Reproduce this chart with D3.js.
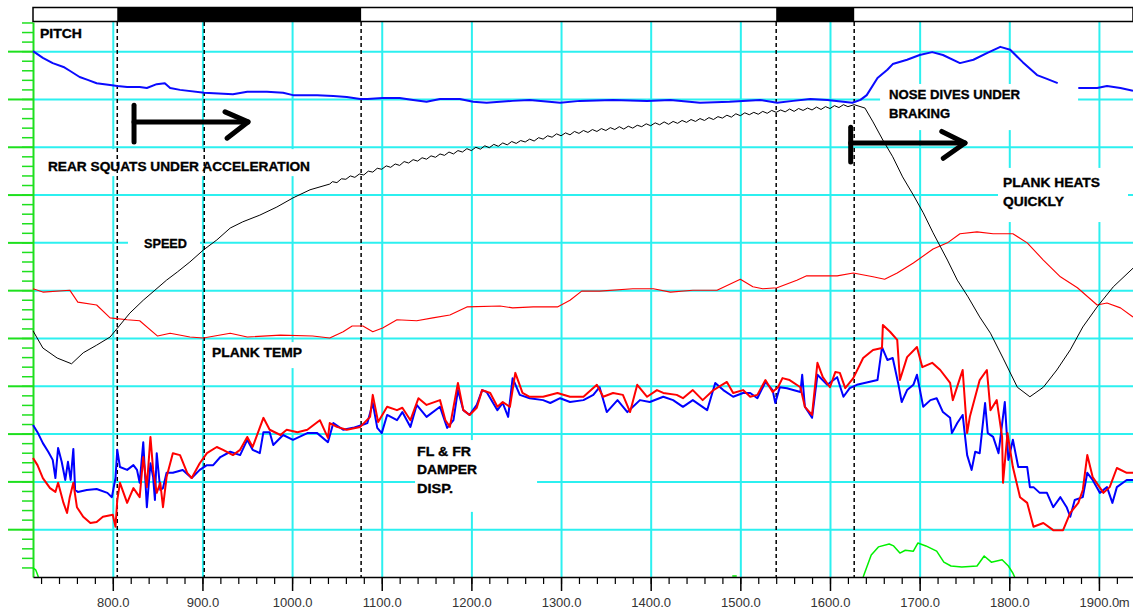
<!DOCTYPE html>
<html>
<head>
<meta charset="utf-8">
<style>
body { margin: 0; background: #fff; }
svg { display: block; font-family: "Liberation Sans", Arial, sans-serif; }
</style>
</head>
<body>
<script src="https://d3js.org/d3.v7.min.js"></script>
<script>

// distance (m) vs channel value (10 units = one grid division)
const pitch = [[711,110.0],[722,108.6],[733,107.5],[745,106.7],[752,105.9],[763,104.6],[772,104.0],[782,103.3],[797,102.9],[805,102.7],[816,102.5],[830,102.5],[838,102.3],[849,103.1],[858,103.3],[864,102.3],[875,101.9],[902,101.3],[934,101.0],[950,101.5],[972,101.5],[990,101.3],[1001,100.8],[1028,100.8],[1046,100.6],[1061,100.4],[1076,100.0],[1084,100.0],[1101,100.2],[1120,100.2],[1135,99.8],[1150,99.4],[1165,100.0],[1187,100.0],[1202,99.4],[1217,99.2],[1246,99.6],[1265,99.8],[1299,99.2],[1321,99.6],[1358,99.8],[1396,99.6],[1422,99.8],[1455,99.2],[1488,99.4],[1522,99.8],[1541,99.2],[1559,99.6],[1578,100.0],[1597,99.8],[1625,99.2],[1634,99.8],[1641,100.8],[1653,104.4],[1664,106.1],[1670,107.3],[1686,108.2],[1700,109.2],[1714,109.8],[1726,109.2],[1745,107.5],[1760,108.2],[1775,109.6],[1790,110.9],[1801,110.3],[1815,107.7],[1831,105.0],[1842,104.2],[1854,103.3],[1865,null],[1877,102.3],[1898,102.3],[1909,102.7],[1924,102.3],[1938,101.7]];

const speed = [[711,51.5],[722,47.9],[738,45.8],[754,44.6],[767,46.9],[782,48.5],[797,50.2],[808,52.7],[819,55.2],[834,57.9],[847,60.0],[860,62.1],[872,63.8],[886,65.9],[901,68.4],[916,70.5],[931,73.0],[945,74.3],[964,75.7],[983,77.4],[1001,79.3],[1020,81.0],[1042,82.2],
  [1045,82.7],[1050,82.5],[1055,83.3],[1060,83.2],[1065,83.9],[1070,83.6],[1075,84.3],[1080,84.1],[1085,84.9],[1090,84.7],[1095,85.5],[1100,85.3],[1105,86.0],[1110,85.7],[1115,86.4],[1120,86.1],[1125,86.9],[1130,86.6],[1135,87.3],[1140,87.0],[1145,87.7],[1150,87.4],[1155,88.1],[1160,87.8],[1165,88.5],[1170,88.2],[1175,88.9],[1180,88.5],[1185,89.2],[1190,88.9],[1195,89.6],[1200,89.2],[1205,89.9],[1210,89.5],[1215,90.2],[1220,89.8],[1225,90.5],[1230,90.1],[1235,90.8],[1240,90.4],[1245,91.1],[1250,90.7],[1255,91.3],[1260,91.0],[1265,91.6],[1270,91.2],[1275,91.9],[1280,91.6],[1285,92.3],[1290,92.0],[1295,92.7],[1300,92.3],[1305,92.9],[1310,92.5],[1315,93.2],[1320,92.8],[1325,93.4],[1330,93.0],[1335,93.6],[1340,93.2],[1345,93.8],[1350,93.4],[1355,94.0],[1360,93.6],[1365,94.2],[1370,93.7],[1375,94.3],[1380,93.9],[1385,94.5],[1390,94.2],[1395,94.8],[1400,94.4],[1405,95.0],[1410,94.6],[1415,95.2],[1420,94.7],[1425,95.3],[1430,94.9],[1435,95.5],[1440,95.1],[1445,95.7],[1450,95.3],[1455,95.9],[1460,95.5],[1465,96.1],[1470,95.7],[1475,96.3],[1480,96.0],[1485,96.6],[1490,96.2],[1495,96.9],[1500,96.5],[1505,97.1],[1510,96.7],[1515,97.2],[1520,96.8],[1525,97.4],[1530,97.0],[1535,97.6],[1540,97.2],[1545,97.7],[1550,97.3],[1555,97.9],[1560,97.4],[1565,98.0],[1570,97.6],[1575,98.1],[1580,97.7],[1585,98.3],[1590,97.8],[1595,98.4],[1600,98.0],[1605,98.6],[1610,98.2],[1615,98.8],[1620,98.4],[1627,98.8],
  [1639,98.1],[1648,95.2],[1659,91.4],[1670,87.9],[1681,83.7],[1693,79.9],[1704,76.2],[1715,72.0],[1731,66.3],[1742,62.1],[1754,58.6],[1767,54.4],[1779,51.0],[1793,45.8],[1809,39.7],[1823,37.7],[1838,39.7],[1853,43.3],[1868,47.5],[1882,52.3],[1898,56.5],[1916,60.7],[1938,64.6]];

const plankTemp = [[711,60.3],[722,59.6],[752,60.0],[761,57.5],[782,56.9],[797,54.2],[816,53.8],[830,53.6],[850,50.4],[864,51.0],[886,50.2],[901,50.0],[931,51.0],[950,50.2],[987,50.6],[1023,50.4],[1042,50.0],[1057,51.3],[1067,52.5],[1079,52.5],[1090,51.3],[1101,52.1],[1117,53.8],[1139,53.6],[1157,54.2],[1176,54.8],[1195,56.5],[1232,56.7],[1246,56.3],[1269,56.5],[1296,56.5],[1310,57.9],[1323,59.8],[1343,59.8],[1380,60.3],[1403,60.3],[1422,59.6],[1447,60.0],[1474,60.0],[1500,62.3],[1514,60.7],[1525,60.3],[1541,60.5],[1563,62.1],[1574,63.0],[1608,63.0],[1626,63.6],[1648,62.8],[1661,62.3],[1675,63.6],[1693,65.7],[1715,68.6],[1731,69.9],[1745,71.8],[1764,72.2],[1782,71.8],[1804,71.8],[1820,69.9],[1838,66.3],[1857,62.8],[1876,60.5],[1898,56.9],[1909,57.3],[1924,56.3],[1938,54.4]];

const damperFL = [[711,31.8],[716,30.3],[722,28.0],[728,26.2],[733,24.5],[736,20.7],[739,27.0],[743,24.1],[747,20.3],[750,24.1],[753,20.3],[756,26.8],[758,18.2],[761,17.8],[771,18.2],[782,18.4],[794,17.6],[799,16.7],[803,20.7],[805,26.6],[808,23.0],[816,22.4],[823,23.4],[827,22.4],[830,19.7],[834,28.2],[838,14.6],[842,23.8],[845,20.9],[847,16.1],[849,25.9],[853,18.2],[856,18.6],[860,21.8],[867,21.8],[878,22.4],[888,20.7],[897,22.4],[905,23.4],[912,23.4],[920,25.1],[931,26.2],[942,25.5],[950,28.7],[956,26.6],[964,25.9],[968,30.3],[975,30.3],[979,27.6],[990,29.7],[1001,28.7],[1017,30.1],[1028,30.1],[1040,28.2],[1046,32.2],[1057,30.8],[1068,31.2],[1078,31.8],[1084,32.2],[1090,36.4],[1095,31.2],[1100,30.1],[1106,33.9],[1117,32.8],[1123,34.5],[1132,31.4],[1139,36.0],[1150,33.5],[1165,35.6],[1173,31.2],[1180,32.8],[1185,39.1],[1191,34.9],[1198,33.9],[1206,36.0],[1212,39.1],[1217,38.7],[1229,34.9],[1235,36.4],[1241,33.5],[1246,41.6],[1254,38.1],[1265,37.4],[1280,37.0],[1288,36.4],[1299,37.4],[1310,36.6],[1325,37.0],[1336,38.1],[1343,39.7],[1351,34.5],[1363,37.0],[1374,34.5],[1388,37.0],[1399,36.6],[1414,37.7],[1425,37.0],[1436,35.6],[1447,37.0],[1463,34.9],[1472,40.6],[1481,39.1],[1492,37.7],[1503,38.5],[1511,38.5],[1519,37.4],[1528,40.8],[1536,39.1],[1539,36.4],[1544,39.7],[1552,39.5],[1567,38.7],[1569,42.3],[1572,35.6],[1580,33.3],[1586,42.3],[1597,40.2],[1608,41.8],[1615,37.7],[1622,39.5],[1630,40.2],[1653,41.2],[1658,48.1],[1664,45.4],[1670,45.8],[1676,40.6],[1680,36.6],[1686,39.1],[1693,40.2],[1697,42.3],[1704,35.6],[1712,37.0],[1719,37.4],[1726,34.5],[1734,33.3],[1736,30.1],[1742,32.2],[1748,33.9],[1753,25.5],[1758,22.4],[1762,26.2],[1767,25.9],[1773,36.4],[1776,30.1],[1782,29.3],[1788,25.9],[1795,36.6],[1799,24.5],[1804,28.7],[1810,23.0],[1820,23.0],[1823,18.8],[1827,18.8],[1834,17.6],[1842,17.6],[1849,14.6],[1857,16.7],[1864,14.6],[1868,12.6],[1873,16.1],[1882,16.7],[1887,21.8],[1893,20.3],[1901,17.6],[1909,18.8],[1915,15.5],[1920,18.8],[1931,20.3],[1938,20.3]];

const damperFR = [[711,24.9],[716,23.4],[722,20.7],[730,18.6],[736,17.8],[739,19.7],[745,15.5],[749,13.4],[752,16.7],[756,19.7],[760,14.6],[767,12.6],[775,11.3],[782,11.5],[789,12.6],[800,13.0],[803,10.5],[805,16.1],[808,19.7],[816,15.5],[823,18.6],[830,16.7],[834,25.1],[838,18.8],[842,29.3],[845,22.4],[849,17.6],[853,19.7],[856,14.6],[860,20.9],[867,25.9],[875,25.5],[883,21.8],[888,20.7],[897,23.8],[905,25.9],[916,27.2],[923,26.6],[934,25.5],[942,26.6],[950,29.3],[956,27.2],[968,33.3],[975,30.8],[987,29.7],[994,30.8],[1006,30.3],[1017,30.8],[1031,32.8],[1040,29.1],[1042,32.2],[1050,31.4],[1061,30.8],[1076,31.4],[1087,33.5],[1090,38.1],[1096,32.4],[1106,35.6],[1117,34.9],[1123,35.4],[1132,32.8],[1141,37.4],[1150,36.0],[1165,37.0],[1171,32.8],[1176,31.4],[1185,40.6],[1191,34.9],[1198,33.9],[1206,35.4],[1212,39.1],[1221,38.5],[1229,35.6],[1235,36.6],[1243,35.6],[1249,42.7],[1257,38.5],[1265,37.7],[1280,37.7],[1296,38.5],[1310,37.7],[1325,37.7],[1340,40.2],[1347,37.7],[1358,38.5],[1369,38.1],[1377,34.5],[1385,40.2],[1396,37.7],[1407,39.1],[1414,38.5],[1429,38.1],[1436,37.4],[1447,39.1],[1458,37.0],[1470,39.1],[1485,40.8],[1492,38.5],[1503,39.1],[1511,37.7],[1519,38.1],[1528,41.2],[1536,38.7],[1542,39.7],[1547,41.6],[1555,41.2],[1567,39.7],[1572,35.6],[1580,33.9],[1586,44.8],[1592,41.8],[1600,39.7],[1606,42.9],[1611,42.7],[1617,39.5],[1626,41.6],[1637,45.8],[1648,47.5],[1658,47.9],[1659,52.7],[1667,51.3],[1675,49.6],[1678,41.2],[1686,46.0],[1697,48.1],[1703,43.9],[1714,44.8],[1723,43.3],[1734,40.6],[1737,37.0],[1745,41.6],[1748,43.3],[1753,30.1],[1756,33.5],[1767,41.2],[1775,43.3],[1779,34.9],[1786,37.0],[1792,29.3],[1793,19.7],[1798,30.1],[1804,23.0],[1812,16.7],[1820,15.5],[1827,10.5],[1838,11.3],[1849,9.8],[1860,9.8],[1868,13.4],[1877,15.5],[1882,18.2],[1887,25.5],[1893,20.9],[1905,17.6],[1912,18.8],[1920,22.8],[1931,21.8],[1938,21.8]];

const greenTrace = [[711,1.9],[714,1.5],[717,0],[718,null],[1491,0.2],[1496,0.2],[1497,null],[1637,0],[1646,4.6],[1654,6.3],[1666,6.9],[1671,6.5],[1678,5.0],[1684,5.6],[1693,5.4],[1698,7.1],[1707,6.5],[1719,5.4],[1727,3.1],[1735,2.3],[1747,2.1],[1764,2.3],[1772,4.4],[1780,3.1],[1792,3.6],[1799,2.3],[1804,0.8],[1806,0]];

const markers = [805, 902, 1077, 1540, 1627];
const barSegments = [[805, 1077], [1540, 1627]];
const majorDist = d3.range(800, 1901, 100);
const minorDist = d3.range(720, 1921, 20);
const gridVals = d3.range(10, 111, 10);

const labels = [
  {lines: [["PITCH", 112.8, 42]], m: 718.8},
  {lines: [["REAR SQUATS UNDER ACCELERATION", 84.9, 262]], m: 727.7, box: [6, 12, 8, 5]},
  {lines: [["SPEED", 68.8, 43]], m: 834.8, box: [16, 7, 13, 8]},
  {lines: [["PLANK TEMP", 46.0, 90]], m: 910.7, box: [6, 5, 4, 11]},
  {lines: [["NOSE DIVES UNDER", 100.0, 131], ["BRAKING", 96.0, 61]], m: 1665.9, box: [9, 5, 58, 12]},
  {lines: [["PLANK HEATS", 81.6, 97], ["QUICKLY", 77.6, 61]], m: 1793.0, box: [5, 9, 28, 16]},
  {lines: [["FL & FR", 25.3, 54], ["DAMPER", 21.5, 60], ["DISP.", 17.6, 36]], m: 1139.4, box: [2, 6, 60, 19]}
];

const arrows = [
  [[[823.7, 98.7], [823.7, 91.0]], [[823.7, 95.2], [950.8, 95.2]], [[925.2, 97.3], [950.8, 95.2], [927.4, 91.8]]],
  [[[1623.1, 94.1], [1623.1, 86.8]], [[1623.1, 90.8], [1750.6, 90.8]], [[1724.7, 93.2], [1750.6, 90.8], [1726.4, 87.6]]]
];

const W = 1133, H = 610;
const CYAN = "#2cf0f0", GREEN = "#1ee01e";

const x = d3.scaleLinear().domain([711, 1938]).range([33, 1133]);
const y = d3.scaleLinear().domain([0, 116.1]).range([577, 22]);

const svg = d3.select("body").append("svg").attr("width", W).attr("height", H);
svg.append("rect").attr("width", W).attr("height", H).attr("fill", "#fff");

// cyan grid
const gx = svg.append("g").attr("transform", `translate(0,${y(0)})`)
    .call(d3.axisBottom(x).tickValues(majorDist).tickSize(-(y(0) - y(116.1))).tickFormat(""));
gx.select(".domain").remove();
gx.selectAll("line").attr("stroke", CYAN).attr("stroke-width", 2);

const gy = svg.append("g").attr("transform", `translate(${x(711)},0)`)
    .call(d3.axisLeft(y).tickValues(gridVals).tickSize(-(x(1938) - x(711))).tickFormat(""));
gy.select(".domain").remove();
gy.selectAll("line").attr("stroke", CYAN).attr("stroke-width", 2);

// green left axis
const gMinor = svg.append("g").attr("transform", `translate(${x(711)},0)`)
    .call(d3.axisLeft(y).tickValues(d3.range(2, 116.1, 2)).tickSize(11).tickFormat(""));
gMinor.select(".domain").remove();
gMinor.selectAll("line").attr("stroke", GREEN).attr("stroke-width", 1.5);

const gMajor = svg.append("g").attr("transform", `translate(${x(711)},0)`)
    .call(d3.axisLeft(y).tickValues(gridVals).tickSize(25).tickSizeOuter(0).tickFormat(""));
gMajor.select(".domain").attr("stroke", GREEN).attr("stroke-width", 2);
gMajor.selectAll("line").attr("stroke", GREEN).attr("stroke-width", 2);

// top bar
svg.append("rect").attr("x", x(711)).attr("y", 7.5).attr("width", x(1938) - x(711)).attr("height", 14)
    .attr("fill", "#fff").attr("stroke", "#000").attr("stroke-width", 1.5);
svg.selectAll(".seg").data(barSegments).enter().append("rect")
    .attr("x", d => x(d[0])).attr("y", 7.5)
    .attr("width", d => x(d[1]) - x(d[0])).attr("height", 14)
    .attr("fill", "#000");

// label backgrounds
labels.filter(d => d.box).forEach(d => {
  const first = d.lines[0], last = d.lines[d.lines.length - 1];
  const w = d3.max(d.lines, l => l[2]);
  const left = x(d.m) - d.box[0], top = y(first[1]) - 10 - d.box[1];
  svg.append("rect").attr("x", left).attr("y", top)
      .attr("width", w + d.box[0] + d.box[2])
      .attr("height", y(last[1]) + d.box[3] - top)
      .attr("fill", "#fff");
});

// lap markers
svg.selectAll(".marker").data(markers).enter().append("line")
    .attr("x1", d => x(d)).attr("x2", d => x(d))
    .attr("y1", y(116.1)).attr("y2", y(0))
    .attr("stroke", "#000").attr("stroke-width", 1.5).attr("stroke-dasharray", "4,3");

const line = d3.line().defined(d => d[1] != null).x(d => x(d[0])).y(d => y(d[1]));

const traces = [
  [plankTemp, "#ff0000", 1.1],
  [speed, "#000000", 1],
  [damperFL, "#0000ff", 2],
  [damperFR, "#ff0000", 2],
  [pitch, "#0a0aff", 2],
  [greenTrace, "#00f000", 1.5]
];
traces.forEach(t => {
  svg.append("path").datum(t[0])
      .attr("fill", "none").attr("stroke", t[1]).attr("stroke-width", t[2])
      .attr("stroke-linejoin", "round")
      .attr("d", line);
});

// distance axis
const axMinor = svg.append("g").attr("transform", `translate(0,${y(0)})`)
    .call(d3.axisBottom(x).tickValues(minorDist).tickSize(7).tickSizeOuter(0).tickFormat(""));
axMinor.selectAll("line").attr("stroke", "#000").attr("stroke-width", 1.2);
axMinor.select(".domain").attr("stroke", "#000").attr("stroke-width", 1.5);

const axMajor = svg.append("g").attr("transform", `translate(0,${y(0)})`)
    .call(d3.axisBottom(x).tickValues(majorDist).tickSize(14).tickPadding(7).tickSizeOuter(0)
      .tickFormat(d => d.toFixed(1)));
axMajor.select(".domain").remove();
axMajor.selectAll("line").attr("stroke", "#000").attr("stroke-width", 1.5);
axMajor.selectAll("text").attr("fill", "#333").style("font-size", "13px")
    .style("font-family", "'Liberation Sans', Arial, sans-serif");

const lastTick = axMajor.selectAll("text").filter(d => d === 1900);
const lw = lastTick.node().getComputedTextLength();
axMajor.append("text").attr("x", x(1900) + lw / 2).attr("y", 21).attr("dy", "0.71em")
    .attr("text-anchor", "start").attr("fill", "#333")
    .style("font-size", "13px").style("font-family", "'Liberation Sans', Arial, sans-serif")
    .text("m");

// annotation text
labels.forEach(d => {
  d.lines.forEach(l => {
    svg.append("text").attr("x", x(d.m)).attr("y", y(l[1]))
        .attr("textLength", l[2]).attr("lengthAdjust", "spacingAndGlyphs")
        .style("font-size", "13.5px").style("font-weight", "bold")
        .attr("fill", "#000").attr("stroke", "#000").attr("stroke-width", 0.35)
        .text(l[0]);
  });
});

// hand drawn arrows
const arrowLine = d3.line().x(d => x(d[0])).y(d => y(d[1]));
arrows.forEach(a => {
  a.forEach(seg => {
    svg.append("path").attr("d", arrowLine(seg))
        .attr("fill", "none").attr("stroke", "#000").attr("stroke-width", 5)
        .attr("stroke-linecap", "round").attr("stroke-linejoin", "round");
  });
});

</script>
</body>
</html>
